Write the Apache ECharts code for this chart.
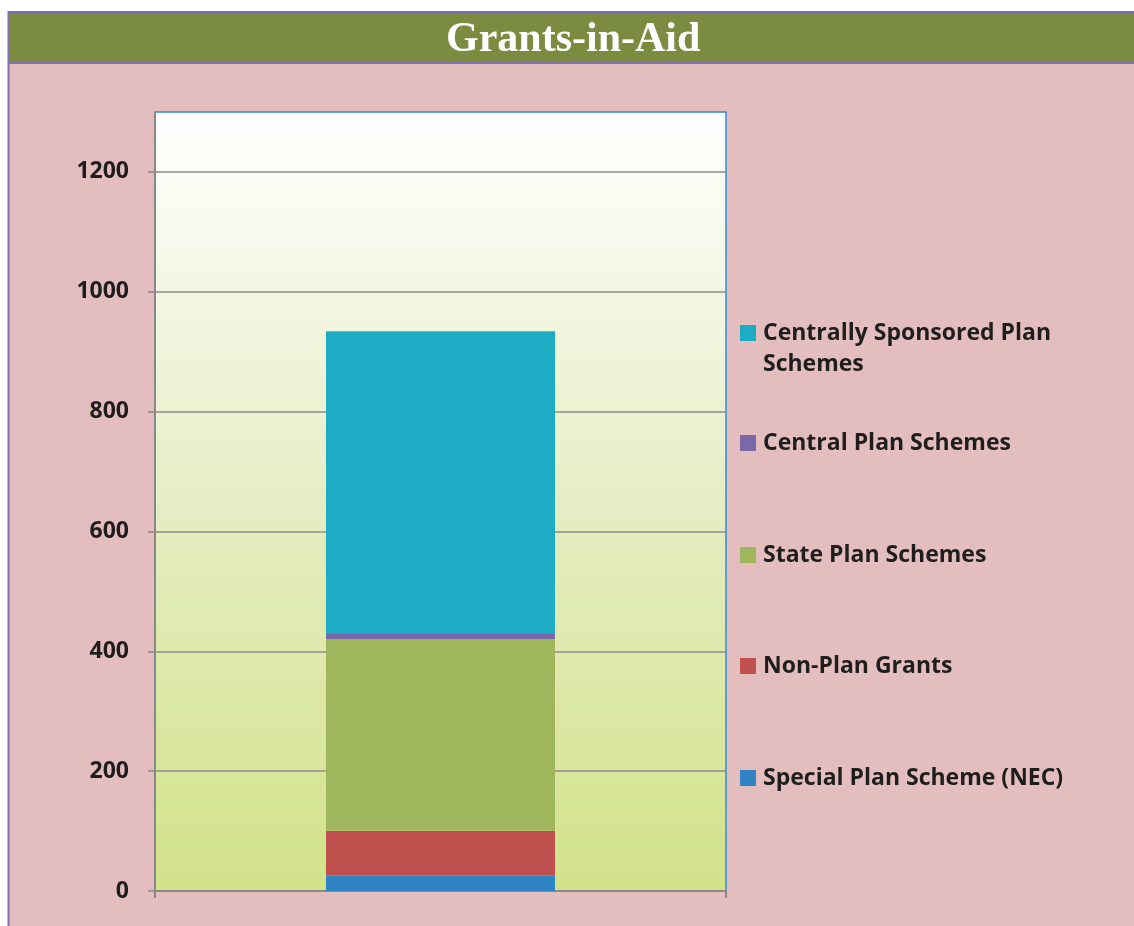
<!DOCTYPE html>
<html>
<head>
<meta charset="utf-8">
<script src="https://cdn.jsdelivr.net/npm/echarts@6/dist/echarts.min.js"></script>
<style>
html,body{margin:0;padding:0;background:#ffffff;}
#chart{width:1134px;height:926px;}
</style>
</head>
<body>
<div id="chart"></div>
<script>
// ---- data ----
const categories = ['Grants-in-Aid'];
const seriesNames = [
  'Special Plan Scheme (NEC)',
  'Non-Plan Grants',
  'State Plan Schemes',
  'Central Plan Schemes',
  'Centrally Sponsored Plan Schemes'
];
const specialPlanNEC = [26];
const nonPlanGrants = [74.5];
const statePlanSchemes = [320];
const centralPlanSchemes = [8.5];
const centrallySponsored = [505];
const yTicks = [0, 200, 400, 600, 800, 1000, 1200];

const seriesData = [specialPlanNEC, nonPlanGrants, statePlanSchemes, centralPlanSchemes, centrallySponsored];
const colors = ['#2E84C4', '#C0504D', '#9FB65C', '#7A68AA', '#1CACC4'];

const chart = echarts.init(document.getElementById('chart'));

const legendCenters = [778, 666, 555, 443, 333];
const legends = seriesNames.map((name, i) => {
  const multi = i === 4;
  const lh = multi ? 31 : 28;
  const boxH = multi ? lh * 3 : lh;
  return {
    data: [name],
    left: 740,
    top: legendCenters[i] - boxH / 2,
    orient: 'vertical',
    padding: 0,
    icon: 'rect',
    itemWidth: 16,
    itemHeight: 16,
    itemGap: 0,
    selectedMode: false,
    formatter: multi ? function () { return '\nCentrally Sponsored Plan\nSchemes'; } : '{name}',
    textStyle: {
      fontFamily: 'Open Sans',
      fontWeight: 'bold',
      fontSize: 23,
      color: '#1E1E1E',
      lineHeight: lh,
      padding: [0, 0, 0, 2]
    }
  };
});

const option = {
  backgroundColor: '#ffffff',
  animation: false,
  graphic: [
    { type: 'rect', z: -10, shape: { x: 8, y: 62, width: 1126, height: 864 }, style: { fill: '#E4BEBE' } },
    { type: 'rect', z: -10, shape: { x: 8, y: 11, width: 1126, height: 52 }, style: { fill: '#7B8B40' } },
    { type: 'line', z: -9, shape: { x1: 8, y1: 12, x2: 1134, y2: 12 }, style: { stroke: '#8070B0', lineWidth: 2 } },
    { type: 'line', z: -9, shape: { x1: 8, y1: 63, x2: 1134, y2: 63 }, style: { stroke: '#8070B0', lineWidth: 2 } },
    { type: 'line', z: -9, shape: { x1: 8.5, y1: 11, x2: 8.5, y2: 926 }, style: { stroke: '#8070B0', lineWidth: 2 } }
  ],
  title: {
    text: 'Grants-in-Aid',
    left: 441,
    top: 14,
    textStyle: {
      fontFamily: 'Liberation Serif',
      fontWeight: 'bold',
      fontSize: 42,
      color: '#ffffff'
    }
  },
  legend: legends,
  grid: {
    left: 155,
    right: 408,
    top: 112,
    bottom: 35,
    show: true,
    borderColor: '#2E8FD8',
    borderWidth: 1.5,
    backgroundColor: {
      type: 'linear', x: 0, y: 0, x2: 0, y2: 1,
      colorStops: [
        { offset: 0, color: '#FFFFFF' },
        { offset: 0.5, color: '#E6EDC4' },
        { offset: 1, color: '#D2E288' }
      ]
    }
  },
  xAxis: {
    type: 'category',
    data: categories,
    axisLine: { show: true, lineStyle: { color: '#888888', width: 2 } },
    axisTick: { show: true, length: 7, lineStyle: { color: '#888888', width: 2 } },
    axisLabel: { show: false }
  },
  yAxis: {
    type: 'value',
    min: 0,
    max: 1300,
    interval: 200,
    axisLine: { show: true, lineStyle: { color: '#888888', width: 2 } },
    axisTick: { show: true, length: 7, customValues: yTicks, lineStyle: { color: '#888888', width: 1.5 } },
    axisLabel: {
      customValues: yTicks,
      formatter: function (v) { return String(v); },
      margin: 26,
      fontFamily: 'Open Sans',
      fontWeight: 'bold',
      fontSize: 23,
      color: '#1E1E1E'
    },
    splitLine: { show: true, lineStyle: { color: '#8C8C8C', width: 1.5 } }
  },
  series: seriesNames.map((name, i) => ({
    name: name,
    type: 'bar',
    stack: 'total',
    barWidth: 229,
    data: seriesData[i],
    itemStyle: { color: colors[i] }
  }))
};

chart.setOption(option);
</script>
</body>
</html>
